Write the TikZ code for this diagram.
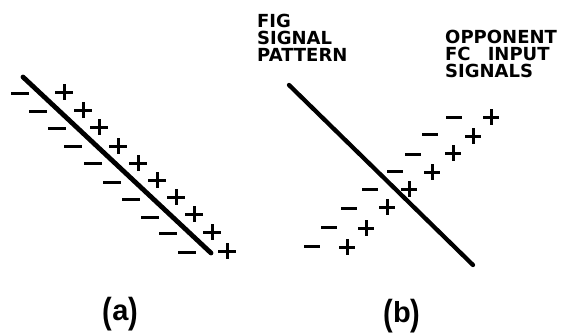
\documentclass[tikz,border=0pt]{standalone}
\usepackage{fontspec}
\usepackage{graphicx}
\newfontfamily\capfont{DejaVu Sans}
\newfontfamily\lblfont{Liberation Sans}
\newcommand{\tallparen}[1]{\raisebox{-3pt}{\scalebox{1}[1.25]{#1}}}
\begin{document}
\begin{tikzpicture}[x=1pt,y=-1pt,
  bigline/.style={line width=4.8pt,line cap=round},
  signstroke/.style={line width=3pt},
  captext/.style={inner sep=0pt,anchor=base west,font=\capfont\bfseries\fontsize{18}{17}\selectfont},
  paneltext/.style={inner sep=0pt,anchor=base,font=\lblfont\bfseries\fontsize{29}{30}\selectfont}]
\useasboundingbox (0,0) rectangle (563,333);
\fill[white] (0,0) rectangle (563,333);
% panel (a)
\coordinate (a1) at (23,77);
\coordinate (a2) at (211,253);
\draw[bigline] (a1) -- (a2);
\foreach \x/\y in {20/93,38/111,57/128,73/146,93/163,112/182,131/199,150/217,168/233,187/252}
  \draw[signstroke] (\x-9,\y) -- (\x+9,\y);
\foreach \x/\y in {64/92,83/110,99/127,118/146,138/163,157/180,176/197,194/214,212/232,227/251}
  {\draw[signstroke] (\x-9,\y) -- (\x+9,\y); \draw[signstroke] (\x,\y-8) -- (\x,\y+8);}
% panel (b)
\coordinate (b1) at (289,85);
\coordinate (b2) at (473,265);
\draw[bigline,line width=4.3pt] (b1) -- (b2);
\foreach \x/\y in {454/117,430/134,413/154,395/171,370/189,349/208,329/227,312/246}
  \draw[signstroke] (\x-8,\y) -- (\x+8,\y);
\foreach \x/\y in {491/117,473/136,453/153,432/172,409/189,387/207,366/228,347/247}
  {\draw[signstroke] (\x-8,\y) -- (\x+8,\y); \draw[signstroke] (\x,\y-8) -- (\x,\y+8);}
% texts
\node[captext] (t1) at (257,27) {FIG};
\node[captext] (t2) at (257,44) {SIGNAL};
\node[captext] (t3) at (257,61) {PATTERN};
\node[captext] (u1) at (445,43) {OPPONENT};
\node[captext] (u2) at (445,60) {FC\hspace{0.95em}INPUT};
\node[captext] (u3) at (445,77) {SIGNALS};
\node[paneltext] (la) at (120.5,320) {\tallparen{(}a\tallparen{)}};
\node[paneltext] (lb) at (402,322) {\tallparen{(}b\tallparen{)}};
\end{tikzpicture}
\end{document}
